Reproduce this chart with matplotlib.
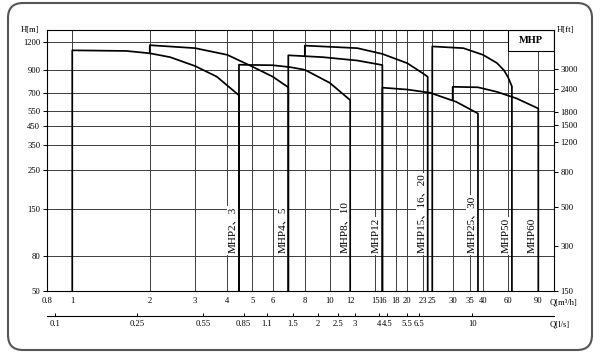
import numpy as np
import matplotlib
matplotlib.use('Agg')
import matplotlib.pyplot as plt
from matplotlib.patches import FancyBboxPatch, Rectangle

plt.rcParams['font.family'] = ['Liberation Serif', 'Noto Sans CJK SC']
plt.rcParams['font.size'] = 6.2

# axis ticks
qTicks = [0.8, 1, 2, 3, 4, 5, 6, 8, 10, 12, 15, 16, 18, 20, 23, 25, 30, 35, 40, 60, 90]
hTicks = [50, 80, 150, 250, 350, 450, 550, 700, 900, 1200]
ftTicks = [3000, 2400, 1800, 1500, 1200, 800, 500, 300, 150]
# lower l/s scale: labels and the flow [m3/h] they stand under
lsLabels = ['0.1', '0.25', '0.55', '0.85', '1.1', '1.5', '2', '2.5', '3', '4', '4.5', '5.5', '6.5', '10']
lsAtQ = [0.86, 1.78, 3.22, 4.63, 5.69, 7.2, 9.0, 10.8, 12.5, 15.5, 16.7, 20, 22.3, 35.9]

# pump curves, Q [m3/h] / H [m]
names = ['MHP2、3', 'MHP4、5', 'MHP8、10', 'MHP12', 'MHP15、16、20', 'MHP25、30', 'MHP50', 'MHP60']
q23 = [1, 1.62, 2, 2.4, 3, 3.64, 4.44]
h23 = [1105, 1098, 1072, 1030, 940, 840, 682]
q45 = [2, 3, 4, 5, 6, 6.9]
h45 = [1165, 1130, 1055, 935, 840, 748]
q810 = [4.44, 6, 7, 8, 10, 12]
h810 = [953, 948, 930, 905, 785, 640]
q12 = [6.9, 9.4, 12.8, 16]
h12 = [1050, 1030, 995, 950]
q1520 = [8, 12.8, 16, 20, 23, 24]
h1520 = [1160, 1130, 1065, 968, 870, 839]
q2530 = [16, 20, 24.5, 31, 38]
h2530 = [745, 730, 705, 625, 535]
q50 = [25, 33, 40, 50, 56, 60, 63]
h50 = [1150, 1130, 1055, 970, 900, 830, 755]
q60 = [30, 38, 50, 67, 90]
h60 = [752, 748, 712, 655, 572]
# head the left edge of each curve rises from (50 = bottom of chart)
hFrom = [50, 1072, 50, 50, 1040, 50, 50, 640]

curves = [(q23, h23), (q45, h45), (q810, h810), (q12, h12),
          (q1520, h1520), (q2530, h2530), (q50, h50), (q60, h60)]


def logScale(vals, pos):
    # piecewise log scale, the chart is squeezed at both ends
    lk = np.log10(vals)
    fwd = lambda v: np.interp(np.log10(np.maximum(v, 1e-6)), lk, pos)
    inv = lambda p: 10 ** np.interp(p, pos, lk)
    return fwd, inv


xFns = logScale([0.8, 35, 40, 60, 90, 111], [0, 422.6, 435.7, 461, 491, 506.7])
yFns = logScale([50, 700, 900, 1200, 1360], [0, 197.3, 220.4, 248.4, 260.4])

fig = plt.figure(figsize=(6, 3.53), dpi=100)
ax = fig.add_axes([47.3 / 600, 62.3 / 353, 506.7 / 600, 260.4 / 353])
ax.set_xscale('function', functions=xFns)
ax.set_yscale('function', functions=yFns)
ax.set_xlim(0.8, 111)
ax.set_ylim(50, 1360)

ax.set_xticks(qTicks)
ax.set_xticklabels([str(q) for q in qTicks])
ax.set_yticks(hTicks)
ax.set_yticklabels([str(h) for h in hTicks])
ax.tick_params(axis='x', length=0, pad=4.8)
ax.tick_params(axis='y', direction='out', length=3, width=0.7, pad=2)
ax.grid(True, color='#3c3c3c', lw=0.7)
for s in ax.spines.values():
    s.set_linewidth(0.8)

ax2 = ax.twinx()
ax2.set_yscale('function', functions=yFns)
ax2.set_ylim(50, 1360)
ax2.set_yticks([f * 0.3048 for f in ftTicks])
ax2.set_yticklabels([str(f) for f in ftTicks])
ax2.tick_params(axis='y', direction='out', length=3, width=0.7, pad=1.5)
for s in ax2.spines.values():
    s.set_visible(False)

# lower flow scale in l/s, same Q scale as the chart
ax3 = fig.add_axes([47.3 / 600, 37.3 / 353, 506.7 / 600, 0.001])
ax3.set_xscale('function', functions=xFns)
ax3.set_xlim(0.8, 111)
ax3.patch.set_visible(False)
for k in ['top', 'left', 'right']:
    ax3.spines[k].set_visible(False)
ax3.spines['bottom'].set_linewidth(0.8)
ax3.set_yticks([])
ax3.set_xticks(lsAtQ)
ax3.set_xticklabels(lsLabels)
ax3.tick_params(axis='x', direction='in', length=2.5, width=0.7, pad=3)

for name, (q, h), h0 in zip(names, curves, hFrom):
    ax.plot([q[0]] + q + [q[-1]], [h0] + h + [50], color='black', lw=1.25, zorder=4)
    ax.annotate(name, xy=(q[-1], 80), xytext=(-4.3, 1.5), textcoords='offset points',
                rotation=90, ha='center', va='bottom', fontsize=8,
                bbox=dict(boxstyle='square,pad=0.1', fc='white', ec='none'), zorder=3)

ax.add_patch(Rectangle((0.91, 0.922), 0.09, 0.078, transform=ax.transAxes,
                       fc='white', ec='black', lw=0.8, zorder=2))
ax.text(0.955, 0.961, 'MHP', transform=ax.transAxes, ha='center', va='center',
        fontsize=7.5, fontweight='bold', zorder=3)

ax.text(-0.016, 1.0, 'H[m]', transform=ax.transAxes, ha='right', va='center')
ax.text(1.006, 1.0, 'H[ft]', transform=ax.transAxes, ha='left', va='center')
ax.text(0.992, -0.046, 'Q[m³/h]', transform=ax.transAxes, ha='left', va='center')
ax.text(0.992, -0.128, 'Q[l/s]', transform=ax.transAxes, ha='left', va='center')

fig.add_artist(FancyBboxPatch((8 / 600, 3 / 353), 584 / 600, 347 / 353,
                              boxstyle='round,pad=0,rounding_size=0.025',
                              mutation_aspect=600 / 353, transform=fig.transFigure,
                              fill=False, ec='#555555', lw=1.5))

fig.savefig('out.png', dpi=100)
